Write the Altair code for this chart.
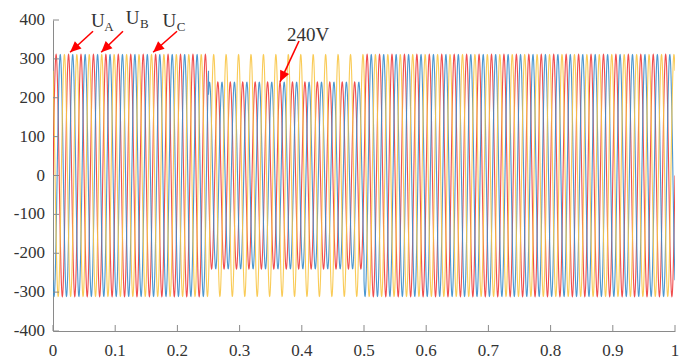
import math
import numpy as np
import pandas as pd
import altair as alt

# ---- data ----------------------------------------------------------------
phases = ["UA", "UB", "UC"]
phase_shift_deg = [0, -120, 120]
freq_hz = 50
segment_bounds = [0.0, 0.25, 0.5, 1.0]          # s
amp_A = [311, 240, 311]                          # peak V per segment
amp_B = [311, 240, 311]
amp_C = [311, 311, 311]
sample_step = 0.00025

x_ticks = [0, 0.1, 0.2, 0.3, 0.4, 0.5, 0.6, 0.7, 0.8, 0.9, 1.0]
y_ticks = [-400, -300, -200, -100, 0, 100, 200, 300, 400]

colors = ["#EE3B3B", "#3A8CCB", "#F8C545"]

# ---- build waveform table ------------------------------------------------
amps = [amp_A, amp_B, amp_C]
rows = []
for ph, sh, am in zip(phases, phase_shift_deg, amps):
    for k in range(len(segment_bounds) - 1):
        t0, t1 = segment_bounds[k], segment_bounds[k + 1]
        t = np.arange(t0, t1 + 1e-12, sample_step)
        v = am[k] * np.sin(2 * np.pi * freq_hz * t + np.deg2rad(sh))
        for ti, vi in zip(t, v):
            rows.append((ph, k, float(round(ti, 6)), float(round(vi, 2))))
wave = pd.DataFrame(rows, columns=["phase", "seg", "t", "v"])
wave["order"] = range(len(wave))

W, H = 622, 311
XD, YD = [0, 1], [-400, 400]
FONT = "Liberation Serif"
LABEL_COLOR = "#333333"
AXIS_COLOR = "#8a8a8a"

xs = alt.Scale(domain=XD, nice=False, zero=False)
ys = alt.Scale(domain=YD, nice=False)

lines = alt.Chart(wave).mark_line(strokeWidth=1.1, opacity=0.9, clip=True).encode(
    x=alt.X("t:Q", scale=xs, title=None, axis=alt.Axis(values=x_ticks, title=None)),
    y=alt.Y("v:Q", scale=ys, title=None, axis=alt.Axis(values=y_ticks, title=None)),
    color=alt.Color("phase:N", scale=alt.Scale(domain=phases, range=colors), legend=None),
    detail="phase:N",
    order="order:Q",
)

# inward ticks
xt = alt.Chart(pd.DataFrame({"t": x_ticks})).mark_rule(color=AXIS_COLOR).encode(
    x=alt.X("t:Q", scale=xs, title=None), y=alt.value(H), y2=alt.value(H - 6))
yt = alt.Chart(pd.DataFrame({"v": y_ticks})).mark_rule(color=AXIS_COLOR).encode(
    y=alt.Y("v:Q", scale=ys, title=None), x=alt.value(0), x2=alt.value(6))

# tick labels (serif) drawn as text through the scales
xl = alt.Chart(pd.DataFrame({"t": x_ticks})).transform_calculate(
    lab="format(datum.t, '~g')"
).mark_text(font=FONT, fontSize=17, color=LABEL_COLOR, baseline="top", align="center").encode(
    x=alt.X("t:Q", scale=xs, title=None), y=alt.value(H + 12), text="lab:N")
yl = alt.Chart(pd.DataFrame({"v": y_ticks})).transform_calculate(
    lab="'' + datum.v"
).mark_text(font=FONT, fontSize=17, color=LABEL_COLOR, baseline="middle", align="right").encode(
    y=alt.Y("v:Q", scale=ys, title=None), x=alt.value(-8), text="lab:N")

# ---- annotations ---------------------------------------------------------
main_text = ["U", "U", "U", "240V"]
main_t = [0.072, 0.128, 0.187, 0.41]
main_v = [397, 405, 397, 362]
sub_text = ["A", "B", "C"]
sub_t = [0.090, 0.147, 0.206]
sub_v = [383, 390, 383]

arrow_t0 = [0.0643, 0.1125, 0.1994, 0.3955]
arrow_v0 = [371, 371, 371, 346]
arrow_t1 = [0.0275, 0.0775, 0.161, 0.3650]
arrow_v1 = [317, 317, 317, 241]

ann_main = pd.DataFrame({"t": main_t, "v": main_v, "txt": main_text})
ann_sub = pd.DataFrame({"t": sub_t, "v": sub_v, "txt": sub_text})
angles = []
for a0, b0, a1, b1 in zip(arrow_t0, arrow_v0, arrow_t1, arrow_v1):
    dx = (a1 - a0) * W / (XD[1] - XD[0])
    dy = -(b1 - b0) * H / (YD[1] - YD[0])
    angles.append(math.degrees(math.atan2(dx, -dy)) % 360)
arrows = pd.DataFrame({"t0": arrow_t0, "v0": arrow_v0, "t1": arrow_t1,
                       "v1": arrow_v1, "ang": angles})

t_main = alt.Chart(ann_main).mark_text(font=FONT, fontSize=19, color=LABEL_COLOR).encode(
    x=alt.X("t:Q", scale=xs, title=None), y=alt.Y("v:Q", scale=ys, title=None), text="txt:N")
t_sub = alt.Chart(ann_sub).mark_text(font=FONT, fontSize=13, color=LABEL_COLOR).encode(
    x=alt.X("t:Q", scale=xs, title=None), y=alt.Y("v:Q", scale=ys, title=None), text="txt:N")
shaft = alt.Chart(arrows).mark_rule(color="#FF0000", strokeWidth=1.6).encode(
    x=alt.X("t0:Q", scale=xs, title=None), y=alt.Y("v0:Q", scale=ys, title=None),
    x2="t1:Q", y2="v1:Q")
head = alt.Chart(arrows).mark_point(
    shape="M0,0L-0.45,1L0.45,1Z", filled=True, color="#FF0000", opacity=1, size=480
).encode(x=alt.X("t1:Q", scale=xs, title=None), y=alt.Y("v1:Q", scale=ys, title=None),
         angle=alt.Angle("ang:Q", scale=None))

chart = alt.layer(lines, xt, yt, xl, yl, shaft, head, t_main, t_sub).properties(
    width=W, height=H,
    autosize=alt.AutoSizeParams(type="none"),
    padding={"left": 53, "top": 20, "right": 14, "bottom": 29},
    background="white",
).configure_view(stroke=None).configure_axis(
    labels=False, ticks=False, grid=False, domainColor=AXIS_COLOR, title=None,
)

chart.save("out.html", embed_options={"renderer": "svg", "actions": False})
